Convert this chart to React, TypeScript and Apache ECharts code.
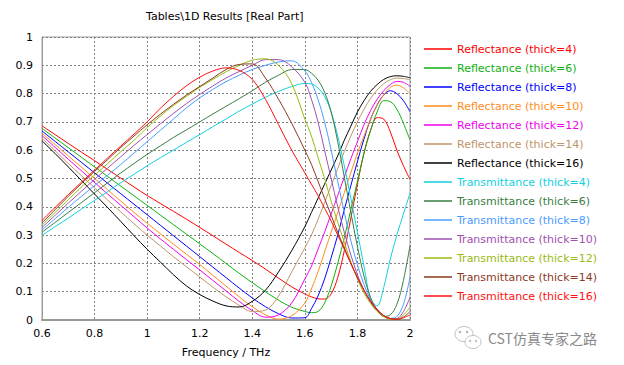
import React, { useEffect, useRef } from "react";
import * as echarts from "echarts";

const freq = [0.6, 0.65, 0.7, 0.75, 0.8, 0.85, 0.9, 0.95, 1.0, 1.05, 1.1, 1.15, 1.2, 1.25, 1.3, 1.35, 1.4, 1.45, 1.5, 1.55, 1.6,
  1.625, 1.65, 1.675, 1.7, 1.725, 1.75, 1.775, 1.8, 1.825, 1.85, 1.875, 1.9, 1.925, 1.95, 1.975, 2.0];

const refl4 = [0.686, 0.655, 0.624, 0.593, 0.563, 0.532, 0.501, 0.47, 0.44, 0.412, 0.384, 0.356, 0.327, 0.298, 0.268, 0.239, 0.21, 0.18, 0.148, 0.117, 0.092,
  0.082, 0.075, 0.074, 0.092, 0.15, 0.245, 0.36, 0.48, 0.59, 0.67, 0.715, 0.71, 0.665, 0.6, 0.545, 0.497];
const refl6 = [0.677, 0.643, 0.609, 0.575, 0.541, 0.507, 0.473, 0.439, 0.405, 0.371, 0.337, 0.303, 0.269, 0.235, 0.2, 0.165, 0.132, 0.1, 0.07, 0.045, 0.03,
  0.026, 0.03, 0.06, 0.12, 0.2, 0.29, 0.39, 0.49, 0.59, 0.67, 0.735, 0.775, 0.772, 0.745, 0.695, 0.636];
const refl8 = [0.668, 0.631, 0.594, 0.557, 0.52, 0.483, 0.446, 0.409, 0.372, 0.335, 0.298, 0.261, 0.224, 0.187, 0.15, 0.113, 0.078, 0.047, 0.022, 0.007, 0.008,
  0.04, 0.085, 0.145, 0.22, 0.3, 0.39, 0.475, 0.56, 0.64, 0.71, 0.76, 0.795, 0.81, 0.8, 0.775, 0.736];
const refl10 = [0.66, 0.62, 0.58, 0.54, 0.5, 0.46, 0.42, 0.38, 0.342, 0.305, 0.268, 0.232, 0.196, 0.158, 0.12, 0.082, 0.047, 0.018, 0.003, 0.015, 0.06,
  0.11, 0.17, 0.24, 0.31, 0.38, 0.45, 0.52, 0.59, 0.65, 0.71, 0.76, 0.795, 0.822, 0.83, 0.82, 0.8];
const refl12 = [0.652, 0.61, 0.568, 0.527, 0.486, 0.445, 0.405, 0.365, 0.325, 0.287, 0.25, 0.213, 0.177, 0.14, 0.103, 0.066, 0.033, 0.01, 0.018, 0.06, 0.145,
  0.19, 0.25, 0.31, 0.375, 0.44, 0.505, 0.57, 0.63, 0.69, 0.74, 0.78, 0.81, 0.832, 0.843, 0.84, 0.826];
const refl14 = [0.643, 0.598, 0.553, 0.51, 0.467, 0.424, 0.382, 0.34, 0.3, 0.262, 0.224, 0.188, 0.152, 0.116, 0.082, 0.052, 0.03, 0.035, 0.085, 0.17, 0.255,
  0.3, 0.355, 0.415, 0.475, 0.535, 0.595, 0.65, 0.7, 0.745, 0.783, 0.813, 0.835, 0.849, 0.855, 0.853, 0.849];
const refl16 = [0.633, 0.588, 0.541, 0.493, 0.445, 0.397, 0.348, 0.298, 0.25, 0.205, 0.16, 0.12, 0.09, 0.067, 0.05, 0.046, 0.066, 0.105, 0.17, 0.245, 0.33,
  0.38, 0.43, 0.48, 0.53, 0.58, 0.635, 0.685, 0.735, 0.775, 0.808, 0.832, 0.85, 0.86, 0.863, 0.861, 0.856];

const trans4 = [0.299, 0.33, 0.36, 0.392, 0.423, 0.454, 0.485, 0.515, 0.545, 0.573, 0.6, 0.628, 0.655, 0.683, 0.71, 0.738, 0.763, 0.787, 0.808, 0.825, 0.836,
  0.834, 0.82, 0.79, 0.735, 0.65, 0.545, 0.43, 0.31, 0.19, 0.075, 0.05, 0.115, 0.215, 0.3, 0.375, 0.447];
const trans6 = [0.31, 0.345, 0.38, 0.415, 0.45, 0.485, 0.52, 0.553, 0.585, 0.615, 0.645, 0.672, 0.7, 0.728, 0.755, 0.782, 0.81, 0.84, 0.865, 0.885, 0.885,
  0.872, 0.848, 0.805, 0.735, 0.63, 0.505, 0.38, 0.26, 0.155, 0.08, 0.035, 0.013, 0.018, 0.055, 0.14, 0.263];
const trans8 = [0.318, 0.358, 0.398, 0.437, 0.475, 0.512, 0.55, 0.59, 0.63, 0.67, 0.71, 0.75, 0.785, 0.815, 0.842, 0.865, 0.885, 0.9, 0.912, 0.916, 0.88,
  0.84, 0.78, 0.7, 0.6, 0.49, 0.38, 0.28, 0.195, 0.125, 0.072, 0.036, 0.015, 0.006, 0.012, 0.055, 0.151];
const trans10 = [0.327, 0.37, 0.413, 0.455, 0.497, 0.537, 0.577, 0.617, 0.655, 0.693, 0.73, 0.765, 0.797, 0.827, 0.855, 0.878, 0.9, 0.92, 0.92, 0.895, 0.84,
  0.78, 0.7, 0.6, 0.5, 0.4, 0.31, 0.23, 0.16, 0.105, 0.063, 0.033, 0.014, 0.004, 0.005, 0.03, 0.08];
const trans12 = [0.335, 0.38, 0.425, 0.47, 0.512, 0.553, 0.595, 0.635, 0.68, 0.72, 0.758, 0.79, 0.822, 0.85, 0.877, 0.9, 0.918, 0.923, 0.9, 0.835, 0.71,
  0.65, 0.575, 0.5, 0.42, 0.345, 0.275, 0.205, 0.145, 0.095, 0.058, 0.03, 0.012, 0.003, 0.003, 0.018, 0.045];
const trans14 = [0.343, 0.39, 0.437, 0.482, 0.525, 0.567, 0.61, 0.65, 0.69, 0.727, 0.762, 0.795, 0.825, 0.855, 0.885, 0.903, 0.905, 0.855, 0.78, 0.695, 0.6,
  0.55, 0.49, 0.43, 0.37, 0.31, 0.255, 0.2, 0.15, 0.105, 0.068, 0.038, 0.016, 0.005, 0.002, 0.01, 0.03];
const trans16 = [0.352, 0.398, 0.443, 0.487, 0.53, 0.573, 0.615, 0.657, 0.7, 0.748, 0.79, 0.828, 0.858, 0.88, 0.891, 0.882, 0.85, 0.78, 0.69, 0.6, 0.52,
  0.48, 0.44, 0.395, 0.35, 0.3, 0.25, 0.2, 0.15, 0.105, 0.065, 0.035, 0.015, 0.005, 0.003, 0.008, 0.018];

const seriesNames = [
  "Reflectance (thick=4)", "Reflectance (thick=6)", "Reflectance (thick=8)", "Reflectance (thick=10)",
  "Reflectance (thick=12)", "Reflectance (thick=14)", "Reflectance (thick=16)",
  "Transmittance (thick=4)", "Transmittance (thick=6)", "Transmittance (thick=8)", "Transmittance (thick=10)",
  "Transmittance (thick=12)", "Transmittance (thick=14)", "Transmittance (thick=16)",
];
const seriesValues = [refl4, refl6, refl8, refl10, refl12, refl14, refl16, trans4, trans6, trans8, trans10, trans12, trans14, trans16];
const seriesColors = [
  "#ff0000", "#10b010", "#0000ff", "#ff8c1a", "#f000f0", "#c0946a", "#000000",
  "#10d0e0", "#3a7d44", "#4a9cff", "#a050b0", "#98bb10", "#8b3a1e", "#ff1010",
];

const FONT = '"DejaVu Sans", Verdana, sans-serif';
const fmt = (v: number) => String(+v.toFixed(1));

export default function App() {
  const ref = useRef<HTMLDivElement>(null);
  useEffect(() => {
    const chart = echarts.init(ref.current!, null, { renderer: "svg" });
    chart.setOption({
      animation: false,
      backgroundColor: "#ffffff",
      title: {
        text: "Tables\\1D Results [Real Part]",
        left: 146,
        top: 11,
        padding: 0,
        textStyle: { fontFamily: FONT, fontSize: 11, fontWeight: "normal", color: "#000" },
      },
      grid: {
        left: 42, right: 214, top: 37, bottom: 45,
        show: true, borderColor: "#a0a0a0", borderWidth: 1, backgroundColor: "transparent",
      },
      legend: {
        orient: "vertical",
        left: 424,
        top: 43,
        padding: 0,
        icon: "rect",
        itemWidth: 28,
        itemHeight: 1.5,
        itemGap: 7,
        selectedMode: false,
        textStyle: { fontFamily: FONT, fontSize: 11, lineHeight: 12, height: 12 },
        data: seriesNames.map((n, i) => ({ name: n, textStyle: { color: seriesColors[i] } })),
      },
      xAxis: {
        type: "value",
        min: 0.6,
        max: 2,
        interval: 0.2,
        name: "Frequency / THz",
        nameLocation: "middle",
        nameGap: 27,
        nameTextStyle: { fontFamily: FONT, fontSize: 11, color: "#000" },
        axisLine: { lineStyle: { color: "#999", width: 2 } },
        axisTick: { show: false },
        axisLabel: { formatter: fmt, fontFamily: FONT, fontSize: 11, color: "#000", margin: 8 },
        splitLine: { show: true, lineStyle: { color: "#808080", type: [2, 2], width: 1 } },
      },
      yAxis: {
        type: "value",
        min: 0,
        max: 1,
        interval: 0.1,
        axisLine: { show: true, lineStyle: { color: "#999", width: 1 } },
        axisTick: { show: false },
        axisLabel: { formatter: fmt, fontFamily: FONT, fontSize: 11, color: "#000", margin: 9 },
        splitLine: { show: true, lineStyle: { color: "#808080", type: [2, 2], width: 1 } },
      },
      series: seriesNames.map((n, i) => ({
        name: n,
        type: "line",
        symbol: "none",
        smooth: 0.35,
        lineStyle: { width: 1, color: seriesColors[i] },
        itemStyle: { color: seriesColors[i] },
        data: freq.map((f, j) => [f, seriesValues[i][j]]),
      })),
      graphic: [
        { type: "ellipse", shape: { cx: 464, cy: 334, rx: 9, ry: 7.5 }, style: { fill: "none", stroke: "#c0c0c0", lineWidth: 1 } },
        { type: "ellipse", shape: { cx: 473, cy: 342, rx: 8, ry: 6.5 }, style: { fill: "#fff", stroke: "#c0c0c0", lineWidth: 1 } },
        { type: "circle", shape: { cx: 460, cy: 332, r: 1.2 }, style: { fill: "#b0b0b0" } },
        { type: "circle", shape: { cx: 467, cy: 332, r: 1.2 }, style: { fill: "#b0b0b0" } },
        { type: "circle", shape: { cx: 470, cy: 341, r: 1 }, style: { fill: "#b0b0b0" } },
        { type: "circle", shape: { cx: 476, cy: 341, r: 1 }, style: { fill: "#b0b0b0" } },
        {
          type: "text", x: 488, y: 338,
          style: { text: "CST仿真专家之路", fill: "#8a8a8a", fontSize: 14, fontFamily: '"Noto Sans CJK SC", sans-serif', textVerticalAlign: "middle" },
        },
      ],
    });
    return () => chart.dispose();
  }, []);
  return <div ref={ref} style={{ position: "fixed", left: 0, top: 0, width: 624, height: 365, background: "#fff" }} />;
}
